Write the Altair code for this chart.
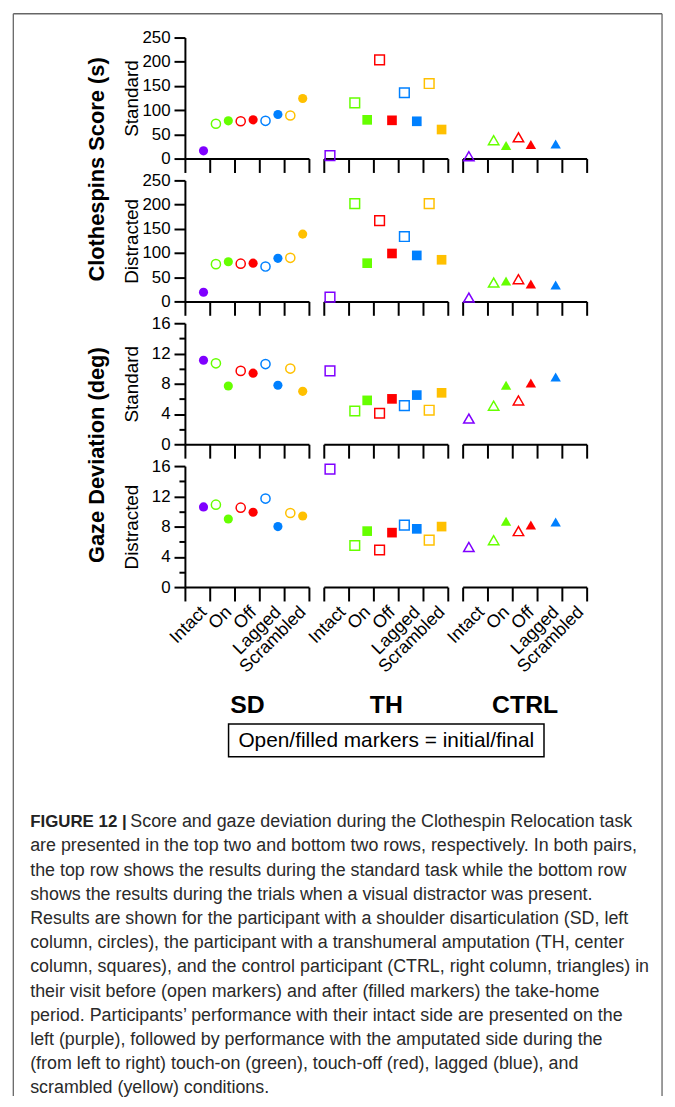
import altair as alt
import pandas as pd

# ---------------- data ----------------
conditions = ["Intact", "On", "Off", "Lagged", "Scrambled"]
phases = ["initial", "final"]
participants = ["SD", "TH", "CTRL"]
condition_colors = ["#7f00ff", "#66ff00", "#ff0000", "#0080ff", "#ffc000"]
participant_shapes = ["circle", "square", "triangle-up"]
row_titles = ["Standard", "Distracted", "Standard", "Distracted"]
score_ticks = [0, 50, 100, 150, 200, 250]
gaze_ticks = [0, 2, 4, 6, 8, 10, 12, 14, 16]

# Clothespins score (s), standard task
score_std_sd_initial = [None, 72, 77, 78, 89]
score_std_sd_final = [16, 78, 80, 91, 124]
score_std_th_initial = [6, 115, 204, 136, 155]
score_std_th_final = [None, 80, 79, 77, 60]
score_std_ctrl_initial = [5, 38, 44, None, None]
score_std_ctrl_final = [None, 27, 29, 30, None]

# Clothespins score (s), distracted task
score_dis_sd_initial = [None, 77, 78, 72, 90]
score_dis_sd_final = [19, 82, 79, 89, 139]
score_dis_th_initial = [9, 202, 167, 134, 202]
score_dis_th_final = [None, 79, 99, 95, 86]
score_dis_ctrl_initial = [8, 39, 46, None, None]
score_dis_ctrl_final = [None, 42, 36, 34, None]

# Gaze deviation (deg), standard task
gaze_std_sd_initial = [None, 10.7, 9.7, 10.6, 10.0]
gaze_std_sd_final = [11.1, 7.7, 9.4, 7.8, 7.0]
gaze_std_th_initial = [9.7, 4.4, 4.1, 5.1, 4.5]
gaze_std_th_final = [None, 5.8, 6.0, 6.5, 6.8]
gaze_std_ctrl_initial = [3.4, 5.1, 5.8, None, None]
gaze_std_ctrl_final = [None, 7.8, 8.1, 8.9, None]

# Gaze deviation (deg), distracted task
gaze_dis_sd_initial = [None, 10.9, 10.5, 11.7, 9.8]
gaze_dis_sd_final = [10.6, 9.0, 9.9, 8.0, 9.4]
gaze_dis_th_initial = [15.6, 5.5, 4.9, 8.2, 6.2]
gaze_dis_th_final = [None, 7.4, 7.2, 7.7, 8.0]
gaze_dis_ctrl_initial = [5.3, 6.2, 7.4, None, None]
gaze_dis_ctrl_final = [None, 8.7, 8.2, 8.6, None]

caption_bold = "FIGURE 12 |"
caption_first = "Score and gaze deviation during the Clothespin Relocation task"
caption_lines = [
    "are presented in the top two and bottom two rows, respectively. In both pairs,",
    "the top row shows the results during the standard task while the bottom row",
    "shows the results during the trials when a visual distractor was present.",
    "Results are shown for the participant with a shoulder disarticulation (SD, left",
    "column, circles), the participant with a transhumeral amputation (TH, center",
    "column, squares), and the control participant (CTRL, right column, triangles) in",
    "their visit before (open markers) and after (filled markers) the take-home",
    "period. Participants\u2019 performance with their intact side are presented on the",
    "left (purple), followed by performance with the amputated side during the",
    "(from left to right) touch-on (green), touch-off (red), lagged (blue), and",
    "scrambled (yellow) conditions.",
]
legend_note = "Open/filled markers = initial/final"
group_titles = ["Clothespins Score (s)", "Gaze Deviation (deg)"]

rows = [
    ("score", [(score_std_sd_initial, score_std_sd_final), (score_std_th_initial, score_std_th_final), (score_std_ctrl_initial, score_std_ctrl_final)]),
    ("score", [(score_dis_sd_initial, score_dis_sd_final), (score_dis_th_initial, score_dis_th_final), (score_dis_ctrl_initial, score_dis_ctrl_final)]),
    ("gaze", [(gaze_std_sd_initial, gaze_std_sd_final), (gaze_std_th_initial, gaze_std_th_final), (gaze_std_ctrl_initial, gaze_std_ctrl_final)]),
    ("gaze", [(gaze_dis_sd_initial, gaze_dis_sd_final), (gaze_dis_th_initial, gaze_dis_th_final), (gaze_dis_ctrl_initial, gaze_dis_ctrl_final)]),
]

# ---------------- layout ----------------
FONT = "Liberation Sans"
W, H = 125, 122
SP_COL, SP_ROW = 15, 22
X0, Y0 = 186, 33          # page position of first plot area
Y5 = Y0 + 4 * H + 4 * SP_ROW  # page y of annotation view
marker_sizes = {"circle": 85, "square": 95, "triangle-up": 110}


def make_panel(r, pi, measure, init_vals, final_vals):
    recs = []
    for c, v in zip(conditions, init_vals):
        if v is not None:
            recs.append({"condition": c, "phase": "initial", "value": v})
    for c, v in zip(conditions, final_vals):
        if v is not None:
            recs.append({"condition": c, "phase": "final", "value": v})
    df = pd.DataFrame(recs)
    p = participants[pi]
    shape = participant_shapes[pi]
    ydom = [0, 250] if measure == "score" else [0, 16]

    if pi == 0:
        common = dict(
            title=row_titles[r], grid=False, domainWidth=2, tickWidth=2,
            labelFontSize=17, labelPadding=4, labelOverlap=False,
            titleFontSize=19, titleFontWeight="normal", titleX=-54, titleY=H / 2,
            titleAngle=270, titleAlign="center", titleBaseline="middle",
        )
        if measure == "score":
            yaxis = alt.Axis(values=score_ticks, tickSize=11, **common)
        else:
            yaxis = alt.Axis(
                values=gaze_ticks,
                labelExpr="datum.value % 4 === 0 ? datum.label : ''",
                tickSize={"condition": {"test": "datum.value % 4 === 0", "value": 11}, "value": 6},
                **common,
            )
    else:
        yaxis = None

    if r == 3:
        xaxis = alt.Axis(
            title=p, labels=True, tickBand="extent", tickSize=14, tickWidth=2,
            domainWidth=2, labelAngle=-45, labelFontSize=18, labelPadding=2,
            titleFontSize=25, titleFontWeight="bold", titleY=118, titleBaseline="middle",
        )
    else:
        xaxis = alt.Axis(
            title=None, labels=False, tickBand="extent", tickSize=14, tickWidth=2,
            domainWidth=2,
        )

    base = alt.Chart(df).encode(
        x=alt.X("condition:N", sort=conditions,
                scale=alt.Scale(domain=conditions, paddingInner=0, paddingOuter=0), axis=xaxis),
        xOffset=alt.XOffset("phase:N", sort=phases,
                            scale=alt.Scale(type="point", domain=phases, padding=0.5)),
        y=alt.Y("value:Q", scale=alt.Scale(domain=ydom, nice=False), axis=yaxis),
        color=alt.Color("condition:N", scale=alt.Scale(domain=conditions, range=condition_colors), legend=None),
    )
    open_layer = base.transform_filter(alt.datum.phase == "initial").mark_point(
        shape=shape, filled=False, size=marker_sizes[shape], strokeWidth=1.5, opacity=1)
    filled_layer = base.transform_filter(alt.datum.phase == "final").mark_point(
        shape=shape, filled=True, size=marker_sizes[shape], opacity=1)
    return alt.layer(open_layer, filled_layer).properties(width=W, height=H)


panels = []
for r, (measure, triples) in enumerate(rows):
    for pi, (iv, fv) in enumerate(triples):
        panels.append(make_panel(r, pi, measure, iv, fv))

# ---------------- annotation view (frame, titles, note box, caption) ----------------
one = pd.DataFrame({"k": [0]})


def rx(px):
    return px - X0


def ry(py):
    return py - Y5


FRAME_L, FRAME_R, FRAME_T, FRAME_B = 13, 667, 9, 1100
frame_col = "#666666"
frame = [
    alt.Chart(one).mark_rule(color=frame_col, strokeWidth=1.3).encode(
        x=alt.value(rx(FRAME_L)), x2=alt.value(rx(FRAME_R)), y=alt.value(ry(FRAME_T)), y2=alt.value(ry(FRAME_T))),
    alt.Chart(one).mark_rule(color=frame_col, strokeWidth=1.3).encode(
        x=alt.value(rx(FRAME_L)), x2=alt.value(rx(FRAME_L)), y=alt.value(ry(FRAME_T)), y2=alt.value(ry(FRAME_B))),
    alt.Chart(one).mark_rule(color=frame_col, strokeWidth=1.3).encode(
        x=alt.value(rx(FRAME_R)), x2=alt.value(rx(FRAME_R)), y=alt.value(ry(FRAME_T)), y2=alt.value(ry(FRAME_B))),
]

group_title_layers = [
    alt.Chart(one).mark_text(text=group_titles[0], angle=270, font=FONT, fontSize=22, fontWeight="bold",
                             color="black", align="center", baseline="middle").encode(
        x=alt.value(rx(97)), y=alt.value(ry(166))),
    alt.Chart(one).mark_text(text=group_titles[1], angle=270, font=FONT, fontSize=22, fontWeight="bold",
                             color="black", align="center", baseline="middle").encode(
        x=alt.value(rx(97)), y=alt.value(ry(454))),
]

note_box = alt.Chart(one).mark_rect(fill="white", stroke="black", strokeWidth=1.5).encode(
    x=alt.value(rx(230)), x2=alt.value(rx(548)), y=alt.value(ry(725)), y2=alt.value(ry(758)))
note_text = alt.Chart(one).mark_text(text=legend_note, font=FONT, fontSize=21, color="black",
                                     align="center", baseline="middle").encode(
    x=alt.value(rx(389)), y=alt.value(ry(742)))

CAP_X, CAP_Y1, CAP_DY = 30, 824, 24.4
cap_bold = alt.Chart(one).mark_text(text=caption_bold, font=FONT, fontSize=17, fontWeight="bold",
                                    color="#222222", align="left", baseline="middle").encode(
    x=alt.value(rx(CAP_X)), y=alt.value(ry(CAP_Y1)))
cap_first = alt.Chart(one).mark_text(text=caption_first, font=FONT, fontSize=18,
                                     color="#2a2a2a", align="left", baseline="middle").encode(
    x=alt.value(rx(131)), y=alt.value(ry(CAP_Y1)))
cap_df = pd.DataFrame({"line": list(range(1, len(caption_lines) + 1)), "text": caption_lines})
cap_rest = alt.Chart(cap_df).mark_text(font=FONT, fontSize=18, color="#2a2a2a",
                                       align="left", baseline="middle").encode(
    x=alt.value(rx(CAP_X)),
    y=alt.Y("line:Q", axis=None,
            scale=alt.Scale(domain=[0, len(caption_lines)],
                            range=[ry(CAP_Y1), ry(CAP_Y1 + CAP_DY * len(caption_lines))])),
    text="text:N",
)

annotation = alt.layer(*frame, *group_title_layers, note_box, note_text, cap_bold, cap_first, cap_rest).properties(
    width=W, height=10)

chart = alt.concat(*panels, annotation, columns=3,
                   spacing={"row": SP_ROW, "column": SP_COL}, bounds="flush").properties(
    padding={"left": FRAME_L - 8 - 0.65, "top": FRAME_T - 8 - 0.65, "right": 4, "bottom": 0},
).configure(font=FONT).configure_view(stroke=None).configure_axis(
    labelColor="black", titleColor="black", domainColor="black", tickColor="black",
    labelFont=FONT, titleFont=FONT,
)

chart.save("out.html", embed_options={"renderer": "svg", "actions": False})
